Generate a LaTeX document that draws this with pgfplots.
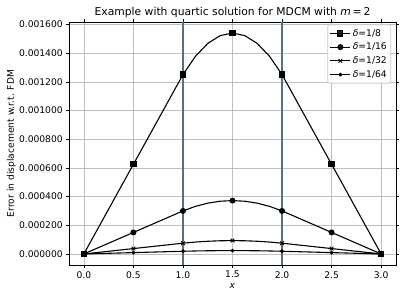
\documentclass[border=0pt]{standalone}
\usepackage{pgfplots}
\pgfplotsset{compat=1.18}
\usepackage{fontspec}
\setmainfont{DejaVu Sans}
\definecolor{vline}{HTML}{5A6F7C}
\definecolor{gridc}{HTML}{B0B0B0}
\definecolor{legc}{HTML}{CCCCCC}
\begin{document}
\fontsize{9.2}{11}\selectfont
\begin{tikzpicture}
\begin{axis}[
  name=ax,
  scale only axis,
  width=327bp, height=243bp,
  xmin=-0.15, xmax=3.15,
  ymin=-0.000077, ymax=0.001617,
  xtick={0,0.5,...,3},
  ytick={0,0.0002,0.0004,0.0006,0.0008,0.001,0.0012,0.0014,0.0016},
  scaled y ticks=false,
  yticklabel style={/pgf/number format/.cd,fixed,fixed zerofill,precision=6,assume math mode=true},
  xticklabel style={/pgf/number format/.cd,fixed,fixed zerofill,precision=1,assume math mode=true},
  ticklabel style={font=\fontsize{9.2}{11}\selectfont},
  grid=major,
  grid style={gridc, line width=0.6pt, opacity=0.8},
  tick align=outside,
  tick style={black, line width=0.6pt},
  major tick length=3bp,
  axis line style={line width=0.6pt},
  xlabel={\textit{x}},
  ylabel={Error in displacement w.r.t. FDM},
  label style={font=\fontsize{9.2}{11}\selectfont},
  xlabel style={yshift=1bp},
  ylabel style={yshift=-3bp},
  title={Example with quartic solution for MDCM with \textit{m}\,=\,2},
  title style={font=\fontsize{10.8}{13}\selectfont, yshift=-5bp},
  legend cell align=left,
  legend style={draw=legc, line width=0.7pt, rounded corners=1.5bp, fill=white, fill opacity=0.85, text opacity=1, font=\fontsize{9.2}{11}\selectfont, inner xsep=2bp, inner ysep=2.5bp, row sep=1.6bp, at={(0.985,0.99)}, anchor=north east},
  legend image code/.code={\draw[#1] (0bp,0bp) -- (10bp,0bp) plot coordinates {(10bp,0bp)} -- (20bp,0bp);},
  every axis plot/.append style={black, line width=1.1pt, mark repeat=4},
]
\addplot[mark=square*, mark size=2.6bp] coordinates {
(0,0) (0.125,0.0001563) (0.25,0.0003125) (0.375,0.000469) (0.5,0.000625) (0.625,0.000781) (0.75,0.0009375) (0.875,0.001094)
(1,0.00125) (1.125,0.001377) (1.25,0.0014675) (1.375,0.001522) (1.5,0.00154) (1.625,0.001522) (1.75,0.0014675) (1.875,0.001377)
(2,0.00125) (2.125,0.001094) (2.25,0.0009375) (2.375,0.000781) (2.5,0.000625) (2.625,0.000469) (2.75,0.0003125) (2.875,0.0001563) (3,0)};
\addlegendentry{\textit{δ}=1/8}
\addplot[mark=*, mark size=2.4bp] coordinates {
(0,0) (0.125,0.0000375) (0.25,0.000075) (0.375,0.0001125) (0.5,0.00015) (0.625,0.0001875) (0.75,0.000225) (0.875,0.0002625)
(1,0.0003) (1.125,0.0003315) (1.25,0.000354) (1.375,0.0003675) (1.5,0.000372) (1.625,0.0003675) (1.75,0.000354) (1.875,0.0003315)
(2,0.0003) (2.125,0.0002625) (2.25,0.000225) (2.375,0.0001875) (2.5,0.00015) (2.625,0.0001125) (2.75,0.000075) (2.875,0.0000375) (3,0)};
\addlegendentry{\textit{δ}=1/16}
\addplot[mark=x, mark size=2.6bp, mark options={line width=0.9pt}] coordinates {
(0,0) (0.125,0.0000094) (0.25,0.00001875) (0.375,0.0000281) (0.5,0.0000375) (0.625,0.0000469) (0.75,0.00005625) (0.875,0.0000656)
(1,0.000075) (1.125,0.0000829) (1.25,0.0000885) (1.375,0.0000919) (1.5,0.000093) (1.625,0.0000919) (1.75,0.0000885) (1.875,0.0000829)
(2,0.000075) (2.125,0.0000656) (2.25,0.00005625) (2.375,0.0000469) (2.5,0.0000375) (2.625,0.0000281) (2.75,0.00001875) (2.875,0.0000094) (3,0)};
\addlegendentry{\textit{δ}=1/32}
\addplot[mark=*, mark size=1.3bp] coordinates {
(0,0) (0.125,0.00000235) (0.25,0.0000047) (0.375,0.00000705) (0.5,0.0000094) (0.625,0.00001175) (0.75,0.0000141) (0.875,0.00001645)
(1,0.0000188) (1.125,0.0000208) (1.25,0.0000222) (1.375,0.000023) (1.5,0.0000233) (1.625,0.000023) (1.75,0.0000222) (1.875,0.0000208)
(2,0.0000188) (2.125,0.00001645) (2.25,0.0000141) (2.375,0.00001175) (2.5,0.0000094) (2.625,0.00000705) (2.75,0.0000047) (2.875,0.00000235) (3,0)};
\addlegendentry{\textit{δ}=1/64}
\addplot[vline, line width=1.6pt, forget plot, mark=none] coordinates {(1,-0.000077) (1,0.001617)};
\addplot[vline, line width=1.6pt, forget plot, mark=none] coordinates {(2,-0.000077) (2,0.001617)};
\end{axis}
\pgfresetboundingbox
\path ([xshift=-69bp,yshift=-34bp]ax.south west) rectangle ([xshift=7bp,yshift=22bp]ax.north east);
\end{tikzpicture}
\end{document}
